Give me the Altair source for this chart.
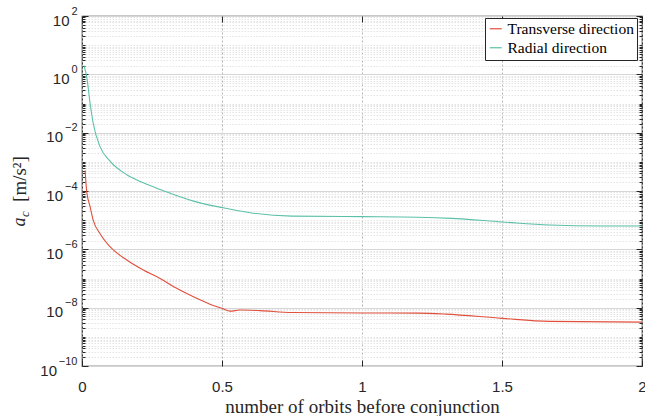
import altair as alt
import pandas as pd

# ---- data ----
series_names = ["Transverse direction", "Radial direction"]
series_colors = ["#e0503c", "#5cc0a8"]

x_transverse = [0.011, 0.017, 0.029, 0.040, 0.064, 0.10, 0.16, 0.219, 0.279, 0.338,
                0.398, 0.457, 0.50, 0.529, 0.564, 0.636, 0.75, 1.0, 1.2, 1.3,
                1.5, 1.67, 2.0]
y_transverse = [5.1e-4, 9.3e-5, 2.9e-5, 1.0e-5, 3.5e-6, 1.23e-6, 4.3e-7, 1.95e-7, 1.0e-7, 4.6e-8,
                2.35e-8, 1.32e-8, 9.5e-9, 7.6e-9, 8.3e-9, 7.9e-9, 6.8e-9, 6.6e-9, 6.5e-9, 6.0e-9,
                4.3e-9, 3.4e-9, 3.2e-9]

x_radial = [0.007, 0.017, 0.029, 0.040, 0.064, 0.10, 0.16, 0.219, 0.279, 0.398,
            0.50, 0.60, 0.75, 1.0, 1.2, 1.32, 1.5, 1.67, 1.85, 2.0]
y_radial = [2.0, 0.8, 0.1, 0.021, 3.4e-3, 1.05e-3, 3.6e-4, 1.9e-4, 1.12e-4, 4.5e-5,
            2.7e-5, 1.8e-5, 1.38e-5, 1.32e-5, 1.26e-5, 1.15e-5, 8.7e-6, 6.8e-6, 6.3e-6, 6.3e-6]

x_ticks = [0, 0.5, 1, 1.5, 2]
y_major = [1e-10, 1e-8, 1e-6, 1e-4, 1e-2, 1e0, 1e2]
y_exponents = ["−10", "−8", "−6", "−4", "−2", "0", "2"]
y_base_1 = [1e0, 1e2]                    # one-character exponents
y_base_2 = [1e-8, 1e-6, 1e-4, 1e-2]      # two-character exponents
y_base_3 = [1e-10]                       # three-character exponent
y_minor = [m * 10.0 ** k for k in range(-10, 2) for m in range(1, 10)
           if not (m == 1 and k % 2 == 0)]

x_title = "number of orbits before conjunction"
y_title_main = "a"
y_title_sub = "c"
y_title_unit = "[m/s²]"

W, H = 560, 350
df = pd.DataFrame({
    "x": x_transverse + x_radial,
    "y": y_transverse + y_radial,
    "series": [series_names[0]] * len(x_transverse) + [series_names[1]] * len(x_radial),
})

xscale = alt.Scale(domain=[0, 2], nice=False)
yscale = alt.Scale(type="log", domain=[1e-10, 1e2], nice=False)
sans = "Liberation Sans"
serif = "Liberation Serif"
frame = "#262626"

exp_expr = "[" + ",".join("'%s'" % t for t in y_exponents) + "][round(log(datum.value)/LN10/2)+5]"


def axis_layer(xaxis, yaxis):
    return alt.Chart(df).mark_line(strokeOpacity=0).encode(
        x=alt.X("x:Q", scale=xscale, axis=xaxis),
        y=alt.Y("y:Q", scale=yscale, axis=yaxis),
    )


blank = dict(labels=False, domain=False, title=None)


def base_axis(values, pad):
    return alt.Axis(orient="left", values=values, grid=False, ticks=False, domain=False,
                    labelExpr="'10'", labelFont=sans, labelFontSize=15, labelColor=frame,
                    labelPadding=pad, labelOffset=4, title=None, labelFlush=False)


# grids + labels
minor_grid = axis_layer(
    None,
    alt.Axis(orient="left", values=y_minor, grid=True, gridDash=[1.5, 1.5], gridColor="#e4e4e4",
             ticks=False, **blank),
)
major = axis_layer(
    alt.Axis(orient="bottom", values=x_ticks, grid=True, gridDash=[2, 2], gridColor="#b4b4b4",
             ticks=False, domain=False, format="~g", labelFont=sans, labelFontSize=15,
             labelColor=frame, labelPadding=13, title=x_title, titleFont=serif,
             titleFontSize=19, titleFontWeight="normal", titleColor=frame, titlePadding=3,
             labelFlush=False),
    alt.Axis(orient="left", values=y_major, grid=True, gridColor="#d6d6d6", ticks=False,
             domain=False, labelExpr=exp_expr, labelFont=sans, labelFontSize=11,
             labelColor=frame, labelPadding=5, labelOffset=-5, title=None, labelFlush=False),
)
lab1 = axis_layer(None, base_axis(y_base_1, 13))
lab2 = axis_layer(None, base_axis(y_base_2, 19.5))
lab3 = axis_layer(None, base_axis(y_base_3, 25.5))

# inward ticks
ticks_a = axis_layer(
    alt.Axis(orient="top", offset=-H, values=x_ticks, tickSize=6, tickColor=frame, grid=False, **blank),
    alt.Axis(orient="right", offset=-W, values=y_minor, tickSize=3, tickColor=frame, grid=False, **blank),
)
ticks_b = axis_layer(
    alt.Axis(orient="bottom", offset=-H, values=x_ticks, tickSize=6, tickColor=frame, grid=False, **blank),
    alt.Axis(orient="right", offset=-W, values=y_major, tickSize=6, tickColor=frame, grid=False, **blank),
)
ticks_c = axis_layer(
    None,
    alt.Axis(orient="left", offset=-W, values=y_minor, tickSize=3, tickColor=frame, grid=False, **blank),
)
ticks_d = axis_layer(
    None,
    alt.Axis(orient="left", offset=-W, values=y_major, tickSize=6, tickColor=frame, grid=False, **blank),
)

lines = alt.Chart(df).mark_line(strokeWidth=1.1, interpolate="monotone").encode(
    x=alt.X("x:Q", scale=xscale, axis=None),
    y=alt.Y("y:Q", scale=yscale, axis=None),
    color=alt.Color("series:N", scale=alt.Scale(domain=series_names, range=series_colors),
                    sort=series_names,
                    legend=alt.Legend(title=None, orient="none", legendX=403, legendY=2,
                                      fillColor="white", strokeColor=frame, padding=3,
                                      labelFont=serif, labelFontSize=15.5, labelColor="black",
                                      symbolType="stroke", symbolSize=144, symbolStrokeWidth=1.2,
                                      labelOffset=4, rowPadding=2, labelLimit=300)),
)

tdf = pd.DataFrame({"a": [y_title_main], "c": [y_title_sub], "u": [y_title_unit]})
t_a = alt.Chart(tdf).mark_text(angle=270, font=serif, fontSize=18, fontStyle="italic",
                               align="center", baseline="middle", color=frame).encode(
    text="a:N", x=alt.value(-62), y=alt.value(206))
t_c = alt.Chart(tdf).mark_text(angle=270, font=serif, fontSize=13, fontStyle="italic",
                               align="center", baseline="middle", color=frame).encode(
    text="c:N", x=alt.value(-57), y=alt.value(198))
t_u = alt.Chart(tdf).mark_text(angle=270, font=serif, fontSize=19,
                               align="center", baseline="middle", color=frame).encode(
    text="u:N", x=alt.value(-62), y=alt.value(163))

chart = alt.layer(
    minor_grid, major, lab1, lab2, lab3, ticks_a, ticks_b, ticks_c, ticks_d,
    lines, t_a, t_c, t_u
).resolve_axis(x="independent", y="independent").properties(
    width=W, height=H,
    autosize=alt.AutoSizeParams(type="none"),
    padding={"left": 82, "top": 16, "right": 3, "bottom": 50},
    background="white",
).configure_view(stroke=frame, strokeWidth=1.2)

chart.save("out.html", embed_options={"renderer": "svg", "actions": False})
